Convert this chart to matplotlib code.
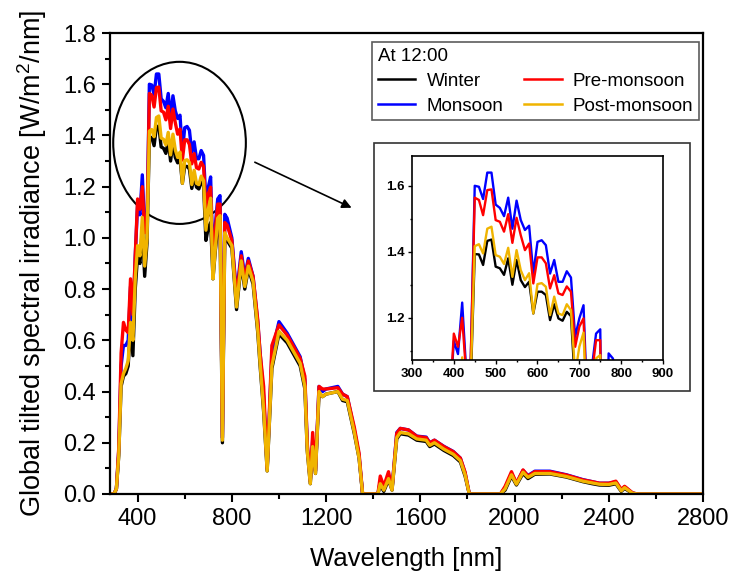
import matplotlib.pyplot as plt
from matplotlib.patches import Ellipse, Rectangle
from matplotlib.ticker import MultipleLocator

plt.rcParams['font.family'] = ['Liberation Sans', 'DejaVu Sans']
plt.rcParams['mathtext.fontset'] = 'custom'
plt.rcParams['mathtext.rm'] = 'Liberation Sans'

# wavelength grid [nm]
wavelength = [280, 300, 310, 320, 330, 340, 350, 360, 370, 380, 390,
              400, 410, 420, 430, 440, 450, 460, 470, 480, 490,
              500, 510, 520, 530, 540, 550, 560, 570, 580, 590,
              600, 610, 620, 630, 640, 650, 660, 670, 680, 690,
              700, 710, 720, 730, 740, 750, 760, 770, 780,
              800, 820, 840, 855, 870, 890, 910, 920, 935, 950, 970,
              1000, 1035, 1090, 1110, 1120, 1133, 1143, 1155, 1170, 1185, 1200,
              1250, 1270, 1290, 1320, 1340, 1355, 1420, 1430, 1445, 1465, 1480,
              1500, 1515, 1550, 1585, 1625, 1640, 1660, 1700, 1740, 1770, 1790, 1808,
              1940, 1960, 1987, 2008, 2036, 2057, 2086, 2150, 2220, 2290, 2330, 2360,
              2400, 2430, 2453, 2467, 2500, 2520, 2800]

winter = [0, 0, 0.02, 0.15, 0.42, 0.46, 0.47, 0.50, 0.66, 0.54, 0.80,
          0.93, 0.90, 1.04, 0.85, 0.98, 1.393, 1.392, 1.36, 1.433, 1.437,
          1.355, 1.35, 1.33, 1.38, 1.30, 1.375, 1.314, 1.293, 1.309, 1.213,
          1.279, 1.279, 1.269, 1.193, 1.241, 1.198, 1.191, 1.218, 1.205, 0.99,
          1.04, 1.06, 0.84, 0.95, 1.04, 1.05, 0.20, 1.0, 0.99,
          0.96, 0.72, 0.90, 0.80, 0.88, 0.82, 0.63, 0.50, 0.32, 0.09, 0.49,
          0.625, 0.59, 0.50, 0.41, 0.17, 0.04, 0.18, 0.08, 0.39, 0.38, 0.39,
          0.40, 0.365, 0.36, 0.235, 0.14, 0.0, 0.0, 0.035, 0.01, 0.055, 0.015,
          0.215, 0.235, 0.23, 0.21, 0.205, 0.185, 0.195, 0.17, 0.15, 0.125, 0.07, 0.0,
          0, 0.015, 0.07, 0.035, 0.08, 0.06, 0.077, 0.078, 0.066, 0.048, 0.04, 0.035,
          0.034, 0.04, 0.01, 0.022, 0.002, 0, 0]

monsoon = [0, 0, 0.02, 0.17, 0.50, 0.58, 0.58, 0.60, 0.81, 0.66, 0.93,
           1.13, 1.09, 1.246, 1.03, 1.05, 1.60, 1.597, 1.56, 1.64, 1.64,
           1.543, 1.533, 1.508, 1.564, 1.47, 1.555, 1.496, 1.466, 1.479, 1.334,
           1.43, 1.435, 1.42, 1.334, 1.375, 1.309, 1.309, 1.341, 1.322, 1.142,
           1.198, 1.238, 0.90, 1.05, 1.152, 1.165, 0.22, 1.092, 1.077,
           1.0, 0.78, 0.946, 0.85, 0.92, 0.85, 0.67, 0.55, 0.38, 0.10, 0.55,
           0.673, 0.628, 0.536, 0.445, 0.19, 0.05, 0.21, 0.09, 0.42, 0.40, 0.41,
           0.42, 0.39, 0.38, 0.25, 0.15, 0.0, 0.0, 0.05, 0.02, 0.07, 0.02,
           0.24, 0.256, 0.25, 0.226, 0.222, 0.20, 0.21, 0.186, 0.166, 0.14, 0.082, 0.0,
           0, 0.025, 0.08, 0.042, 0.092, 0.072, 0.089, 0.089, 0.075, 0.056, 0.048, 0.042,
           0.042, 0.047, 0.015, 0.028, 0.004, 0, 0]

pre_monsoon = [0, 0, 0.02, 0.18, 0.55, 0.67, 0.64, 0.63, 0.84, 0.70, 0.93,
               1.152, 1.112, 1.20, 1.02, 1.05, 1.564, 1.557, 1.511, 1.587, 1.589,
               1.496, 1.491, 1.461, 1.514, 1.427, 1.503, 1.45, 1.405, 1.425, 1.304,
               1.383, 1.383, 1.365, 1.289, 1.329, 1.274, 1.269, 1.295, 1.279, 1.112,
               1.173, 1.198, 0.88, 1.03, 1.132, 1.132, 0.22, 1.06, 1.05,
               0.99, 0.77, 0.93, 0.84, 0.91, 0.85, 0.68, 0.55, 0.42, 0.10, 0.58,
               0.66, 0.62, 0.53, 0.46, 0.20, 0.05, 0.24, 0.09, 0.42, 0.41, 0.41,
               0.415, 0.39, 0.38, 0.26, 0.16, 0.0, 0.0, 0.07, 0.03, 0.087, 0.02,
               0.237, 0.256, 0.25, 0.225, 0.22, 0.20, 0.21, 0.185, 0.165, 0.14, 0.085, 0.0,
               0, 0.03, 0.087, 0.042, 0.094, 0.07, 0.087, 0.087, 0.074, 0.055, 0.048, 0.042,
               0.042, 0.05, 0.018, 0.03, 0.005, 0, 0]

post_monsoon = [0, 0, 0.02, 0.15, 0.43, 0.47, 0.49, 0.52, 0.67, 0.60, 0.84,
                0.97, 0.93, 1.08, 0.89, 1.00, 1.417, 1.423, 1.395, 1.47, 1.476,
                1.39, 1.385, 1.363, 1.412, 1.324, 1.405, 1.344, 1.314, 1.335, 1.213,
                1.302, 1.305, 1.294, 1.208, 1.264, 1.213, 1.208, 1.241, 1.223, 1.03,
                1.112, 1.155, 0.84, 0.96, 1.077, 1.087, 0.21, 1.02, 1.0,
                0.97, 0.73, 0.91, 0.81, 0.89, 0.83, 0.64, 0.51, 0.33, 0.09, 0.50,
                0.635, 0.60, 0.51, 0.42, 0.17, 0.04, 0.185, 0.08, 0.40, 0.38, 0.39,
                0.40, 0.37, 0.365, 0.24, 0.14, 0.0, 0.0, 0.04, 0.015, 0.06, 0.015,
                0.22, 0.24, 0.235, 0.215, 0.21, 0.19, 0.2, 0.175, 0.155, 0.13, 0.075, 0.0,
                0, 0.02, 0.075, 0.038, 0.085, 0.065, 0.08, 0.08, 0.068, 0.05, 0.043, 0.038,
                0.037, 0.043, 0.012, 0.025, 0.003, 0, 0]

seasons = ['Winter', 'Monsoon', 'Pre-monsoon', 'Post-monsoon']
series = [winter, monsoon, pre_monsoon, post_monsoon]
colors = ['#000000', '#0000FF', '#FF0000', '#F0B400']

fig = plt.figure(figsize=(7.37, 5.76), dpi=100)
ax = fig.add_axes([0.1493, 0.1424, 0.8046, 0.8003])

for name, vals, c in zip(seasons, series, colors):
    ax.plot(wavelength, vals, color=c, lw=2.4, label=name)

ax.set_xlim(283, 2800)
ax.set_ylim(0, 1.8)
ax.xaxis.set_major_locator(MultipleLocator(400))
ax.xaxis.set_minor_locator(MultipleLocator(200))
ax.yaxis.set_major_locator(MultipleLocator(0.2))
ax.yaxis.set_minor_locator(MultipleLocator(0.1))
ax.yaxis.set_major_formatter(plt.FormatStrFormatter('%.1f'))
ax.tick_params(which='major', direction='out', length=6, width=1.5, labelsize=17, pad=4)
ax.tick_params(which='minor', direction='out', length=3.5, width=1.5)
for s in ax.spines.values():
    s.set_linewidth(1.6)
ax.set_xlabel('Wavelength [nm]', fontsize=18.5, labelpad=12)
ax.set_ylabel(r'Global tilted spectral irradiance [W/m$\mathregular{^2}$/nm]', fontsize=19.5, labelpad=10)

# circle around the visible peak + arrow to the zoom
ax.add_patch(Ellipse((578, 1.371), 563, 0.633, fill=False, ec='black', lw=1.5))
ax.annotate('', xy=(1319, 1.113), xytext=(887, 1.30),
            arrowprops=dict(arrowstyle='-|>', color='black', lw=1.2, mutation_scale=14))

leg = ax.legend(ncol=2, title='At 12:00', loc='upper left',
                bbox_to_anchor=(0.505, 0.927), bbox_transform=fig.transFigure,
                fontsize=13.5, title_fontsize=13.5, frameon=True, fancybox=False,
                edgecolor='#333333', borderpad=0.3, handlelength=2.0,
                handletextpad=0.6, columnspacing=1.1, labelspacing=0.42,
                borderaxespad=0, alignment='left')
leg.get_frame().set_linewidth(1.2)
for h in leg.get_lines():
    h.set_linewidth(1.8)

# inset frame and zoomed axes
fig.patches.append(Rectangle((0.5075, 0.321), 0.4285, 0.431, transform=fig.transFigure,
                             fill=False, ec='#333333', lw=1.2))
axin = fig.add_axes([0.559, 0.375, 0.3406, 0.354])
for name, vals, c in zip(seasons, series, colors):
    axin.plot(wavelength, vals, color=c, lw=1.7)
axin.set_xlim(300, 900)
axin.set_ylim(1.072, 1.69)
axin.xaxis.set_major_locator(MultipleLocator(100))
axin.xaxis.set_minor_locator(MultipleLocator(50))
axin.yaxis.set_major_locator(MultipleLocator(0.2))
axin.yaxis.set_minor_locator(MultipleLocator(0.1))
axin.yaxis.set_major_formatter(plt.FormatStrFormatter('%.1f'))
axin.tick_params(which='major', direction='out', length=3, width=1, labelsize=9.5, pad=2.5)
axin.tick_params(which='minor', direction='out', length=1.5, width=1)
for lab in axin.get_xticklabels() + axin.get_yticklabels():
    lab.set_fontweight('bold')
for s in axin.spines.values():
    s.set_linewidth(1.2)

fig.savefig('out.png', dpi=100)
